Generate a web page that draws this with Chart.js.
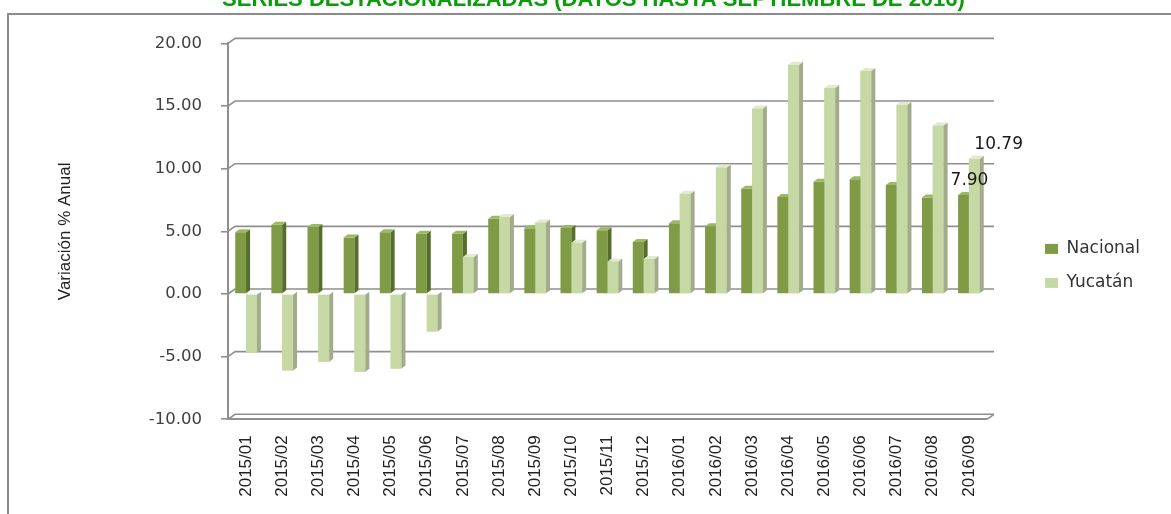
<!DOCTYPE html>
<html><head><meta charset="utf-8">
<script src="https://cdn.jsdelivr.net/npm/chart.js@4"></script>
<style>html,body{margin:0;padding:0;background:#fff;overflow:hidden}</style>
</head><body>
<canvas id="c" width="1171" height="514"></canvas>
<script>
const categories = ['2015/01','2015/02','2015/03','2015/04','2015/05','2015/06','2015/07','2015/08','2015/09','2015/10','2015/11','2015/12','2016/01','2016/02','2016/03','2016/04','2016/05','2016/06','2016/07','2016/08','2016/09'];
const nacional = [4.92,5.53,5.35,4.50,4.92,4.80,4.80,6.00,5.25,5.27,5.08,4.15,5.65,5.40,8.40,7.75,8.95,9.15,8.70,7.70,7.90];
const yucatan  = [-4.70,-6.10,-5.40,-6.20,-5.95,-3.00,2.95,6.15,5.70,4.10,2.60,2.80,8.00,10.10,14.80,18.30,16.45,17.80,15.10,13.45,10.79];
const yTicks = [-10,-5,0,5,10,15,20];
const seriesNames = ['Nacional','Yucatán'];
const titleText = 'SERIES DESTACIONALIZADAS (DATOS HASTA SEPTIEMBRE DE 2016)';
const yTitle = 'Variación % Anual';

const GRID = '#8f8f8f';
const NAC = {front:'#7f9b46', side:'#566e2c', top:'#9bb862'};
const YUC = {front:'#c6d8a4', side:'#a2ab8c', top:'#e0eacd'};

const framePlugin = {
  id:'frame',
  beforeDraw(chart){
    const ctx = chart.ctx; ctx.save();
    ctx.fillStyle = '#fff'; ctx.fillRect(0,0,chart.width,chart.height);
    ctx.strokeStyle = '#8c8c8c'; ctx.lineWidth = 2;
    ctx.strokeRect(8,14,chart.width+20,chart.height+20);
    ctx.restore();
  }
};

const wallPlugin = {
  id:'wall',
  beforeDatasetsDraw(chart){
    const y = chart.scales.y, a = chart.chartArea, ctx = chart.ctx;
    const DX = 7, DY = 5;
    ctx.save(); ctx.strokeStyle = GRID; ctx.lineWidth = 1.6;
    y.ticks.forEach(t => {
      const py = y.getPixelForValue(t.value);
      ctx.beginPath(); ctx.moveTo(a.left, py); ctx.lineTo(a.left+DX, py-DY); ctx.lineTo(a.right+DX, py-DY); ctx.stroke();
    });
    ctx.beginPath(); ctx.moveTo(a.right, a.bottom); ctx.lineTo(a.right+DX, a.bottom-DY); ctx.stroke();
    ctx.restore();
  }
};

function faces(ctx, el, col){
  const dx = 4, dy = 3;
  const {x, y, base, width} = el.getProps(['x','y','base','width'], true);
  const l = x - width/2, r = x + width/2, t = Math.min(y, base), b = Math.max(y, base);
  ctx.fillStyle = col.side;
  ctx.beginPath(); ctx.moveTo(r,t); ctx.lineTo(r+dx,t-dy); ctx.lineTo(r+dx,b-dy); ctx.lineTo(r,b); ctx.closePath(); ctx.fill();
  if (y < base) {
    ctx.fillStyle = col.top;
    ctx.beginPath(); ctx.moveTo(l,t); ctx.lineTo(l+dx,t-dy); ctx.lineTo(r+dx,t-dy); ctx.lineTo(r,t); ctx.closePath(); ctx.fill();
  }
}

const bar3dPlugin = {
  id:'bar3d',
  afterDatasetsDraw(chart){
    const ctx = chart.ctx; ctx.save();
    const m0 = chart.getDatasetMeta(0), m1 = chart.getDatasetMeta(1);
    m0.data.forEach(el => faces(ctx, el, NAC));
    m1.data.forEach(el => { el.draw(ctx); faces(ctx, el, YUC); });
    const n = categories.length - 1;
    ctx.font = '17px "DejaVu Sans"'; ctx.fillStyle = '#1a1a1a'; ctx.textBaseline = 'middle';
    const e0 = m0.data[n], e1 = m1.data[n];
    ctx.textAlign = 'center'; ctx.fillText(nacional[n].toFixed(2), e0.x + 6, e0.y - 14);
    ctx.textAlign = 'left'; ctx.fillText(yucatan[n].toFixed(2), e1.x, e1.y - 14);
    ctx.restore();
  }
};

new Chart(document.getElementById('c'), {
  type:'bar',
  data:{
    labels: categories,
    datasets:[
      {label: seriesNames[0], data: nacional, backgroundColor: NAC.front, borderWidth:0, categoryPercentage:0.6, barPercentage:1.0},
      {label: seriesNames[1], data: yucatan, backgroundColor: YUC.front, borderWidth:0, categoryPercentage:0.6, barPercentage:1.0}
    ]
  },
  options:{
    responsive:false, animation:false, devicePixelRatio:1,
    layout:{padding:{left:37, right:21, top:0, bottom:0}},
    plugins:{
      title:{display:true, text:titleText, color:'#0a9c0a', font:{family:'"Liberation Sans"', size:22, weight:'bold', lineHeight:1.2}, padding:{top:-12.8, bottom:29.8}},
      legend:{position:'right', align:'start',
        labels:{boxWidth:13, boxHeight:10, padding:17, color:'#333', font:{family:'"DejaVu Sans"', size:17}},
        title:{display:true, text:' ', padding:{top:209, bottom:0}, font:{size:12}}},
      tooltip:{enabled:false}
    },
    scales:{
      x:{
        grid:{display:false, drawTicks:false},
        border:{display:true, color:GRID, width:2},
        ticks:{color:'#222', font:{family:'"Liberation Sans"', size:17}, minRotation:90, maxRotation:90, autoSkip:false, padding:16},
        afterFit(s){ s.height = 94.7; }
      },
      y:{
        min:-10, max:20,
        afterBuildTicks(s){ s.ticks = yTicks.map(v => ({value:v})); },
        ticks:{callback:v => Number(v).toFixed(2), color:'#404040', font:{family:'"DejaVu Sans"', size:16.5}, padding:19},
        grid:{drawOnChartArea:false, color:GRID, lineWidth:1.6, tickLength:7},
        border:{display:true, color:GRID, width:2},
        title:{display:true, text:yTitle, color:'#222', font:{family:'"Liberation Sans"', size:17, lineHeight:1.2}, padding:{top:18, bottom:0}},
        afterFit(s){ s.width = 191; }
      },
      y2:{
        type:'linear', position:'right', display:true,
        grid:{display:false, drawTicks:false}, border:{display:false}, ticks:{display:false},
        afterFit(s){ s.width = 41; }
      }
    }
  },
  plugins:[framePlugin, wallPlugin, bar3dPlugin]
});
</script>
</body></html>
